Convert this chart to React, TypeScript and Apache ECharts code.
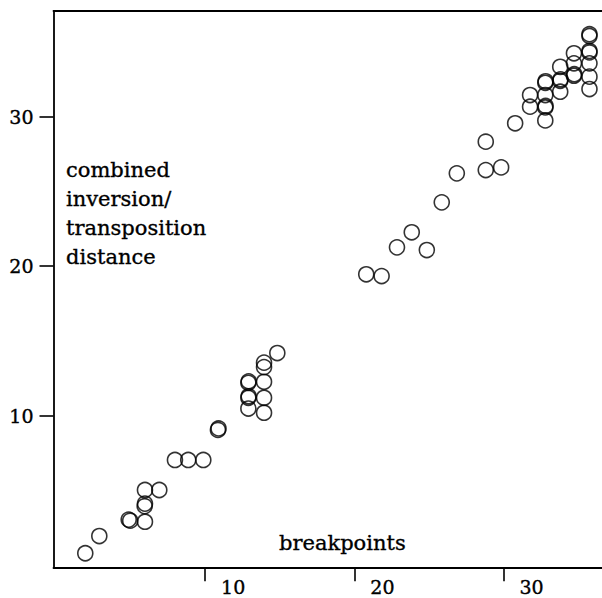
import React, { useEffect, useRef } from "react";
import * as echarts from "echarts";

const breakpoints = [
  1.97, 2.91, 4.88, 4.98, 5.97, 5.95, 5.97, 5.97, 6.93, 7.98, 8.87, 9.88, 10.86, 10.9,
  12.9, 12.92, 12.9, 12.92, 12.9, 13.95, 13.95, 13.95, 13.95, 13.95, 14.84,
  20.8, 21.83, 22.86, 23.85, 24.86, 25.86, 26.87, 28.81, 29.84, 28.81, 30.78,
  31.78, 31.78, 32.8, 32.82, 32.8, 32.8, 32.82, 32.8, 33.8, 33.8, 33.82, 33.8,
  34.72, 34.72, 34.72, 34.74, 35.76, 35.76, 35.76, 35.76, 35.76, 35.76, 35.76,
];
const distance = [
  0.8, 1.95, 3.05, 2.98, 2.91, 3.95, 4.12, 5.03, 5.03, 7.04, 7.04, 7.04, 9.05, 9.15,
  12.2, 12.3, 11.2, 11.3, 10.48, 13.55, 13.25, 12.27, 11.2, 10.2, 14.19,
  19.46, 19.34, 21.26, 22.27, 21.08, 24.27, 26.21, 26.43, 26.61, 28.33, 29.56,
  31.45, 30.67, 32.27, 32.37, 31.45, 30.62, 30.72, 29.75, 33.34, 32.4, 32.5, 31.67,
  34.24, 33.57, 32.74, 32.84, 35.4, 35.52, 34.3, 34.4, 33.57, 32.68, 31.85,
];
const xTicks = [10, 20, 30];
const yTicks = [10, 20, 30];
const yTitle = ["combined", "inversion/", "transposition", "distance"];
const xTitle = "breakpoints";

const FONT = "DejaVu Serif";

export default function App() {
  const ref = useRef<HTMLDivElement>(null);
  useEffect(() => {
    if (!ref.current) return;
    const chart = echarts.init(ref.current, null, { renderer: "svg" });
    const line = { color: "#000", width: 1.8 };
    const xMin = -0.16, xMax = 36.6, yMin = -0.14, yMax = 37.07;
    const textBase = {
      fontFamily: FONT,
      fontWeight: "normal",
      color: "#000",
      textBorderColor: "#000",
      textBorderWidth: 0.35,
    };
    chart.setOption({
      animation: false,
      backgroundColor: "#fff",
      title: [
        {
          text: yTitle.join("\n"),
          left: 66,
          top: 155,
          padding: 0,
          textStyle: { ...textBase, fontSize: 21, lineHeight: 29 },
        },
        {
          text: xTitle,
          left: 279,
          top: 528,
          padding: 0,
          textStyle: { ...textBase, fontSize: 21, lineHeight: 29 },
        },
      ],
      grid: { left: 53.5, top: 11, right: 0, bottom: 30.7, outerBoundsMode: "none" },
      xAxis: [
        {
          type: "value",
          min: xMin,
          max: xMax,
          position: "bottom",
          axisLine: { show: true, onZero: false, lineStyle: line },
          axisTick: { show: true, customValues: xTicks, length: 14, lineStyle: { color: "#000", width: 1.6 } },
          axisLabel: {
            ...textBase,
            customValues: xTicks,
            fontSize: 19,
            align: "left",
            padding: [0, 0, 0, 16],
            margin: 10,
          },
          splitLine: { show: false },
        },
        {
          type: "value",
          min: xMin,
          max: xMax,
          position: "top",
          axisLine: { show: true, onZero: false, lineStyle: line },
          axisTick: { show: false },
          axisLabel: { show: false },
          splitLine: { show: false },
        },
      ],
      yAxis: {
        type: "value",
        min: yMin,
        max: yMax,
        axisLine: { show: true, onZero: false, lineStyle: line },
        axisTick: { show: true, customValues: yTicks, length: 14, lineStyle: { color: "#000", width: 1.6 } },
        axisLabel: {
          ...textBase,
          customValues: yTicks,
          fontSize: 19,
          margin: 20,
          verticalAlign: "middle",
          padding: [0, 0, 14, 0],
        },
        splitLine: { show: false },
      },
      series: [
        {
          type: "scatter",
          xAxisIndex: 0,
          data: breakpoints.map((b, i) => [b, distance[i]]),
          symbol: "circle",
          symbolSize: 15,
          itemStyle: { color: "rgba(0,0,0,0)", borderColor: "#000", borderWidth: 1.6 },
          emphasis: { disabled: true },
        },
      ],
    });
    return () => chart.dispose();
  }, []);
  return (
    <div
      ref={ref}
      style={{ position: "absolute", left: 0, top: 0, width: 602, height: 598 }}
    />
  );
}
